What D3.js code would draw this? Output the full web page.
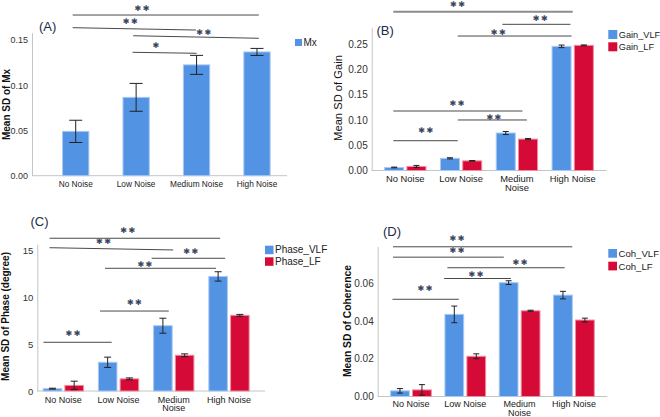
<!DOCTYPE html>
<html><head><meta charset="utf-8">
<script src="https://cdn.jsdelivr.net/npm/d3@7"></script>
<style>
body{margin:0;background:#fff;}
svg{display:block;font-family:"Liberation Sans",Arial,sans-serif;}
</style></head>
<body>
<svg id="c" width="660" height="417"></svg>
<script>
// ---------------- DATA ----------------
const categories = ["No Noise","Low Noise","Medium Noise","High Noise"];
const categoryLines = [["No Noise"],["Low Noise"],["Medium","Noise"],["High Noise"]];

const mxMean = [0.049, 0.0866, 0.1225, 0.1368];
const mxErr  = [0.0123, 0.0154, 0.0105, 0.0039];

const gainVLF    = [0.006, 0.024, 0.074, 0.245];
const gainVLFErr = [0.0007, 0.0012, 0.003, 0.0025];
const gainLF     = [0.008, 0.019, 0.062, 0.247];
const gainLFErr  = [0.002, 0.0006, 0.0012, 0.0008];

const phaseVLF    = [0.25, 3.07, 6.98, 12.25];
const phaseVLFErr = [0.05, 0.55, 0.8, 0.5];
const phaseLF     = [0.6, 1.3, 3.82, 8.09];
const phaseLFErr  = [0.45, 0.1, 0.15, 0.1];

const cohVLF    = [0.003, 0.0435, 0.0603, 0.0537];
const cohVLFErr = [0.0012, 0.0044, 0.001, 0.002];
const cohLF     = [0.0035, 0.0213, 0.0454, 0.0405];
const cohLFErr  = [0.0028, 0.0013, 0.0003, 0.001];

const ticksA = [0, 0.05, 0.10, 0.15];
const ticksB = [0, 0.05, 0.10, 0.15, 0.20, 0.25];
const ticksC = [0, 5, 10, 15];
const ticksD = [0, 0.02, 0.04, 0.06];

// significance brackets: [fromIndex, toIndex, levelLeft, levelRight, starIndex, starLevel, label]
const sigA = [
  [-0.05, 3.03, 0.1776, 0.1776, 1.11, 0.1848, "✱✱"],
  [-0.05, 1.99, 0.1636, 0.1610, 0.915, 0.1700, "✱✱"],
  [0.95, 3.03, 0.1547, 0.1519, 2.13, 0.1585, "✱✱"],
  [0.94, 2.00, 0.1364, 0.1353, 1.34, 0.1434, "✱"]
];
const sigB = [
  [-0.215, 3.00, 0.3134, 0.3134, 0.95, 0.3286, "✱✱"],
  [1.74, 2.96, 0.2885, 0.2885, 2.43, 0.2990, "✱✱"],
  [0.94, 2.98, 0.2654, 0.2654, 1.68, 0.2727, "✱✱"],
  [-0.215, 2.10, 0.1174, 0.1174, 0.94, 0.1318, "✱✱"],
  [0.94, 2.18, 0.0997, 0.0997, 1.60, 0.1050, "✱✱"],
  [-0.215, 0.94, 0.0588, 0.0588, 0.38, 0.0799, "✱✱"]
];
const sigC = [
  [-0.25, 2.84, 16.33, 16.33, 1.18, 17.14, "✱✱"],
  [-0.25, 1.99, 15.32, 15.08, 0.74, 15.96, "✱✱"],
  [1.60, 2.93, 14.19, 14.19, 2.32, 14.89, "✱✱"],
  [0.755, 2.765, 13.12, 13.12, 1.49, 13.55, "✱✱"],
  [0.665, 1.91, 8.55, 8.55, 1.30, 9.48, "✱✱"],
  [-0.36, 0.876, 5.21, 5.21, 0.19, 6.17, "✱✱"]
];
const sigD = [
  [-0.33, 2.97, 0.0793, 0.0793, 0.86, 0.0835, "✱✱"],
  [-0.33, 1.71, 0.0738, 0.0738, 0.86, 0.0775, "✱✱"],
  [0.67, 2.83, 0.0682, 0.0682, 2.02, 0.0711, "✱✱"],
  [0.61, 1.84, 0.0625, 0.0625, 1.21, 0.0646, "✱✱"],
  [-0.34, 0.88, 0.0515, 0.0515, 0.27, 0.0570, "✱✱"]
];

const BLUE = "#5393e3", BLUE_EDGE = "#a9c9f2";
const RED = "#d60a36", RED_EDGE = "#ef8ea3";

// ---------------- DRAW ----------------
const svg = d3.select("#c");

function panel(cfg){
  const g = svg.append("g");
  const y = d3.scaleLinear().domain([0, cfg.yTopVal]).range([cfg.y0, cfg.y0 - cfg.yTopVal*cfg.pxPerUnit]);
  const x = d3.scaleBand().domain(categories).range(cfg.xRange)
      .paddingInner(cfg.pad).paddingOuter(cfg.pad/2);
  const xi = i => x(categories[0]) + x.bandwidth()/2 + i*x.step();
  const sub = d3.scaleBand().domain(cfg.series.map(s=>s.name)).range([0, x.bandwidth()]).paddingInner(cfg.series.length>1?0.1:0);

  // y axis
  const ya = g.append("g").attr("transform",`translate(${cfg.axisX},0)`)
    .call(d3.axisLeft(y).tickValues(cfg.ticks).tickSize(0).tickPadding(4).tickFormat(cfg.fmt));
  ya.select(".domain").attr("stroke","#c4c4c4").attr("stroke-width",1);
  ya.selectAll("text").attr("font-size",cfg.tickFs).attr("fill","#333").attr("font-family","Liberation Sans, Arial, sans-serif");

  // baseline
  g.append("line").attr("x1",cfg.axisX).attr("x2",cfg.baseEnd).attr("y1",y(0)).attr("y2",y(0))
    .attr("stroke","#c4c4c4").attr("stroke-width",1);

  // bars
  cfg.series.forEach(s=>{
    const gs = g.append("g");
    gs.selectAll("rect").data(categories).join("rect")
      .attr("x",(c)=>x(c)+sub(s.name)+0.5)
      .attr("width",sub.bandwidth()-1)
      .attr("y",(c,i)=>y(s.values[i]))
      .attr("height",(c,i)=>y(0)-y(s.values[i]))
      .attr("fill",s.color).attr("stroke",s.edge).attr("stroke-width",1);
    const cap = cfg.cap;
    categories.forEach((c,i)=>{
      const cx = x(c)+sub(s.name)+sub.bandwidth()/2;
      const lo = y(s.values[i]-s.err[i]), hi = y(s.values[i]+s.err[i]);
      gs.append("line").attr("x1",cx).attr("x2",cx).attr("y1",lo).attr("y2",hi).attr("stroke","#222").attr("stroke-width",1);
      gs.append("line").attr("x1",cx-cap).attr("x2",cx+cap).attr("y1",lo).attr("y2",lo).attr("stroke","#222").attr("stroke-width",1);
      gs.append("line").attr("x1",cx-cap).attr("x2",cx+cap).attr("y1",hi).attr("y2",hi).attr("stroke","#222").attr("stroke-width",1);
    });
  });

  // x labels
  categories.forEach((c,i)=>{
    const lines = cfg.singleLine ? [c] : categoryLines[i];
    const t = g.append("text").attr("text-anchor","middle").attr("font-size",cfg.xFs).attr("fill","#222")
      .attr("x",xi(i)).attr("y",cfg.xLabY);
    lines.forEach((l,k)=>t.append("tspan").attr("x",xi(i)).attr("dy",k===0?0:cfg.xLineH).text(l));
  });

  // significance
  cfg.sig.forEach((s,k)=>{
    const thick = cfg.thickFirst && k===0;
    g.append("line").attr("x1",xi(s[0])).attr("x2",xi(s[1])).attr("y1",y(s[2])).attr("y2",y(s[3]))
      .attr("stroke",thick?"#8c8c8c":"#4a4a4a").attr("stroke-width",thick?2:1);
    g.append("text").attr("x",xi(s[4])).attr("y",y(s[5])).attr("text-anchor","middle")
      .attr("dominant-baseline","central").attr("font-family","DejaVu Sans, sans-serif")
      .attr("font-size",8).attr("letter-spacing",1.5)
      .attr("fill","#2a4372").attr("stroke","#c79a3c").attr("stroke-width",0.15).attr("stroke-opacity",0.8)
      .text(s[6]);
  });

  // legend
  cfg.series.forEach((s,k)=>{
    g.append("rect").attr("x",cfg.leg[0]).attr("y",cfg.leg[1]+k*cfg.leg[3]).attr("width",cfg.leg[2]).attr("height",cfg.leg[2])
      .attr("fill",s.color);
    g.append("text").attr("x",cfg.leg[0]+cfg.leg[2]+1.5).attr("y",cfg.leg[1]+k*cfg.leg[3]+cfg.leg[2]/2)
      .attr("dominant-baseline","central").attr("font-size",cfg.legFs).attr("fill","#222").text(s.name);
  });

  // y title
  g.append("text").attr("transform",`translate(${cfg.titlePos[0]},${cfg.titlePos[1]}) rotate(-90)`)
    .attr("text-anchor","middle").attr("font-size",cfg.titleFs).attr("font-weight",cfg.titleBold?"bold":"normal")
    .attr("fill","#111").text(cfg.title);

  // panel label
  g.append("text").attr("x",cfg.labPos[0]).attr("y",cfg.labPos[1]).attr("font-size",13)
    .attr("fill","#1c2b48").text(cfg.label);
}

panel({
  label:"(A)", labPos:[39,31], title:"Mean SD of Mx", titleBold:true, titleFs:10, titlePos:[9.5,104.5],
  series:[{name:"Mx", values:mxMean, err:mxErr, color:BLUE, edge:BLUE_EDGE}],
  yTopVal:0.158, y0:175.7, pxPerUnit:904.7, ticks:ticksA, fmt:d3.format(".2f"), tickFs:9,
  axisX:32, baseEnd:287, xRange:[45.5,287.2], pad:0.548, cap:6.5,
  singleLine:true, xLabY:187, xFs:8.3, xLineH:9,
  sig:sigA, thickFirst:false, leg:[295,39,7,12], legFs:10
});
panel({
  label:"(B)", labPos:[376.5,34.5], title:"Mean SD of Gain", titleBold:false, titleFs:11.2, titlePos:[342,98],
  series:[{name:"Gain_VLF", values:gainVLF, err:gainVLFErr, color:BLUE, edge:BLUE_EDGE},
          {name:"Gain_LF", values:gainLF, err:gainLFErr, color:RED, edge:RED_EDGE}],
  yTopVal:0.282, y0:170.5, pxPerUnit:506.7, ticks:ticksB, fmt:d3.format(".2f"), tickFs:10,
  axisX:371.7, baseEnd:606.7, xRange:[377.4,600.6], pad:0.242, cap:3,
  singleLine:false, xLabY:181.5, xLineH:9.6, xFs:9.4,
  sig:sigB, thickFirst:true, leg:[608.3,30,9,12.3], legFs:9.2
});
panel({
  label:"(C)", labPos:[30.5,225.5], title:"Mean SD of Phase (degree)", titleBold:true, titleFs:10, titlePos:[8.8,316.5],
  series:[{name:"Phase_VLF", values:phaseVLF, err:phaseVLFErr, color:BLUE, edge:BLUE_EDGE},
          {name:"Phase_LF", values:phaseLF, err:phaseLFErr, color:RED, edge:RED_EDGE}],
  yTopVal:15.7, y0:391, pxPerUnit:9.353, ticks:ticksC, fmt:d3.format("d"), tickFs:9.5,
  axisX:37.3, baseEnd:265, xRange:[35.7,256.6], pad:0.252, cap:3.5,
  singleLine:false, xLabY:402.5, xLineH:8.8, xFs:9,
  sig:sigC, thickFirst:false, leg:[265,245.7,8.5,11.6], legFs:10
});
panel({
  label:"(D)", labPos:[383,236], title:"Mean SD of Coherence", titleBold:true, titleFs:10.3, titlePos:[350.5,321],
  series:[{name:"Coh_VLF", values:cohVLF, err:cohVLFErr, color:BLUE, edge:BLUE_EDGE},
          {name:"Coh_LF", values:cohLF, err:cohLFErr, color:RED, edge:RED_EDGE}],
  yTopVal:0.0794, y0:396.5, pxPerUnit:1888, ticks:ticksD, fmt:d3.format(".2f"), tickFs:10,
  axisX:377.7, baseEnd:607.3, xRange:[383.8,601.1], pad:0.232, cap:3,
  singleLine:false, xLabY:407, xLineH:8.8, xFs:9,
  sig:sigD, thickFirst:false, leg:[608.3,249,8.7,12.7], legFs:9.6
});
</script>
</body></html>
